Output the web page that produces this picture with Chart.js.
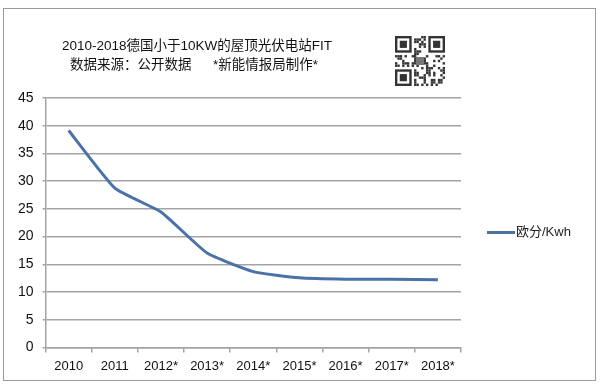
<!DOCTYPE html>
<html>
<head>
<meta charset="utf-8">
<script src="https://cdn.jsdelivr.net/npm/chart.js@4/dist/chart.umd.min.js"></script>
<style>
  html, body { margin: 0; padding: 0; background: #fff; }
  #wrap { position: relative; width: 600px; height: 385px; overflow: hidden;
          font-family: "Liberation Sans", "Noto Sans CJK SC", sans-serif; }
  #frame { position: absolute; left: 3px; top: 8px; width: 593px; height: 373px;
           border: 1px solid #9a9a9a; box-sizing: border-box; }
  #chart { position: absolute; left: 0; top: 0; }
  .title { position: absolute; font-size: 13.5px; color: #111; white-space: nowrap; }
  #legend { position: absolute; left: 487px; top: 221px; font-size: 13px; color: #222;
            white-space: nowrap; }
  #legend span.ln { display: inline-block; width: 28px; height: 3px; background: #4a72a8;
                    vertical-align: middle; margin-right: 1px; }
  #qr { position: absolute; left: 395px; top: 36px; }
</style>
</head>
<body>
<div id="wrap">
  <div id="frame"></div>
  <canvas id="chart" width="600" height="385"></canvas>
  <div class="title" style="left:62px; top:34px;">2010-2018德国小于10KW的屋顶光伏电站FIT</div>
  <div class="title" style="left:70px; top:53px;">数据来源：公开数据</div>
  <div class="title" style="left:213px; top:53px;">*新能情报局制作*</div>
  <canvas id="qr" width="50" height="50"></canvas>
  <div id="legend"><span class="ln"></span>欧分/Kwh</div>
</div>
<script>
/* ======================= DATA ======================= */
const years = ['2010', '2011', '2012*', '2013*', '2014*', '2015*', '2016*', '2017*', '2018*'];
const fitCents = [39.14, 28.74, 24.43, 17.02, 13.68, 12.56, 12.31, 12.30, 12.20];
const seriesLabel = '欧分/Kwh';

/* ======================= CHART ======================= */
const GRID = '#a3a3a3';
new Chart(document.getElementById('chart'), {
  type: 'line',
  data: {
    labels: years,
    datasets: [{
      label: seriesLabel,
      data: fitCents,
      borderColor: '#4a72a8',
      borderWidth: 3,
      pointRadius: 0,
      tension: 0.15,
      fill: false
    }]
  },
  options: {
    responsive: false,
    animation: false,
    layout: { padding: { left: 9, right: 139, top: 98, bottom: 5 } },
    plugins: { legend: { display: false }, tooltip: { enabled: false } },
    scales: {
      x: {
        offset: true,
        grid: { offset: true, drawOnChartArea: false, drawTicks: true, tickLength: 5, color: GRID, lineWidth: 1.5 },
        border: { color: GRID, width: 1.5 },
        ticks: { color: '#111', font: { family: 'Liberation Sans', size: 13 }, padding: 6, maxRotation: 0 }
      },
      y: {
        min: 0, max: 45,
        grid: { color: GRID, lineWidth: 1.5, tickLength: 3 },
        border: { color: GRID, width: 1.5 },
        ticks: { stepSize: 5, color: '#111', font: { family: 'Liberation Sans', size: 14 }, padding: 9 }
      }
    }
  }
});

/* ======================= QR-LIKE BADGE ======================= */
(function drawQr() {
  const c = document.getElementById('qr').getContext('2d');
  const n = 21, s = 50 / n;
  let seed = 7;
  const rnd = () => { seed = (seed * 9301 + 49297) % 233280; return seed / 233280; };
  c.fillStyle = '#fff'; c.fillRect(0, 0, 50, 50);
  c.fillStyle = '#333';
  for (let i = 0; i < n; i++) for (let j = 0; j < n; j++) if (rnd() > 0.5) c.fillRect(i * s, j * s, s, s);
  const finder = (x, y) => {
    c.fillStyle = '#fff'; c.fillRect(x * s - s, y * s - s, 9 * s, 9 * s);
    c.fillStyle = '#333'; c.fillRect(x * s, y * s, 7 * s, 7 * s);
    c.fillStyle = '#fff'; c.fillRect((x + 1) * s, (y + 1) * s, 5 * s, 5 * s);
    c.fillStyle = '#333'; c.fillRect((x + 2) * s, (y + 2) * s, 3 * s, 3 * s);
  };
  finder(0, 0); finder(14, 0); finder(0, 14);
  c.fillStyle = '#777'; c.fillRect(21, 21, 8, 8);
})();
</script>
</body>
</html>
